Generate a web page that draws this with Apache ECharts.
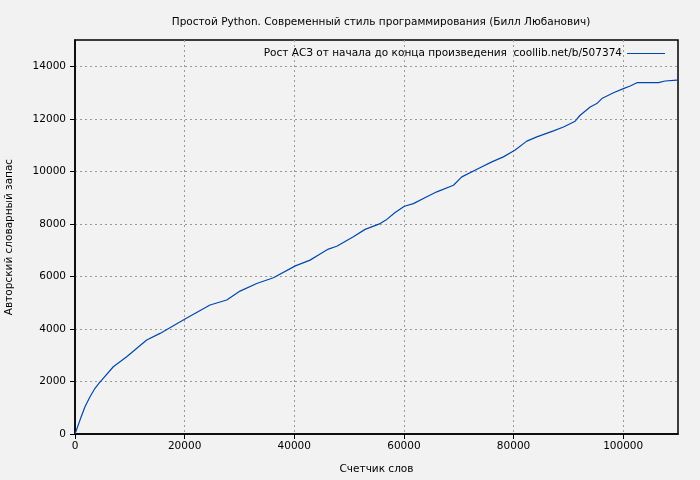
<!DOCTYPE html>
<html><head><meta charset="utf-8">
<script src="https://cdn.jsdelivr.net/npm/echarts@6/dist/echarts.min.js"></script>
<style>html,body{margin:0;padding:0;background:#f2f2f2}#c{width:700px;height:480px}</style>
</head><body><div id="c"></div>
<script>
const chartTitle = 'Простой Python. Современный стиль программирования (Билл Любанович)';
const seriesName = 'Рост АСЗ от начала до конца произведения  coollib.net/b/507374';
const xName = 'Счетчик слов';
const yName = 'Авторский словарный запас';
const wordCounts = [0,910,1820,2740,3650,4430,4870,6990,9430,13080,15510,20070,24630,27680,30110,33150,36190,40200,42880,44710,46220,47750,50780,52920,55660,56880,58400,60090,61730,64180,66000,69040,70560,73600,76040,78150,80230,82420,84250,87280,89110,91240,92150,93980,95190,96110,98230,100050,101270,102610,106440,107660,109800,110000];
const vocab = [0,530,1040,1420,1740,1950,2050,2560,2940,3580,3830,4375,4910,5100,5440,5730,5950,6400,6620,6850,7040,7150,7510,7790,8010,8170,8430,8670,8770,9030,9220,9470,9790,10110,10360,10550,10800,11150,11310,11540,11690,11910,12135,12450,12580,12770,12990,13150,13250,13380,13380,13440,13470,13470];
const font = 'DejaVu Sans';
const chart = echarts.init(document.getElementById('c'));
chart.setOption({
  backgroundColor: '#f2f2f2',
  animation: false,
  textStyle: {fontFamily: font},
  title: {text: chartTitle, left: 376, textAlign: 'center', top: 12, textStyle: {fontSize: 10.5, fontWeight: 'normal', color: '#000', fontFamily: font}},
  legend: {right: 30, top: 43, align: 'right', itemWidth: 38, itemHeight: 10, itemGap: 0,
    textStyle: {fontSize: 10.5, color: '#000', fontFamily: font},
    data: [{name: seriesName, icon: 'path://M0,5L40,5L40,6L0,6Z'}]},
  grid: {left: 75, right: 22, top: 40, bottom: 46, outerBoundsMode: 'none', containLabel: false, show: true, borderColor: '#000', borderWidth: 1.5, backgroundColor: 'transparent'},
  xAxis: {type: 'value', min: 0, max: 110000, interval: 20000, name: xName, nameLocation: 'middle', nameGap: 30,
    nameTextStyle: {fontSize: 10.5, color: '#000'},
    axisLine: {show: true, lineStyle: {color: '#000', width: 1.5}},
    axisTick: {show: true, length: 5, lineStyle: {color: '#000'}},
    axisLabel: {fontSize: 10.5, color: '#000', showMaxLabel: false, margin: 7, formatter: v => String(v)},
    splitLine: {show: true, showMaxLine: false, showMinLine: false, lineStyle: {color: '#999', type: [2, 3], width: 1}}},
  yAxis: {type: 'value', min: 0, max: 15000, interval: 2000, name: yName, nameLocation: 'middle', nameGap: 60, nameRotate: 90,
    nameTextStyle: {fontSize: 10.5, color: '#000'},
    axisLine: {show: true, lineStyle: {color: '#000', width: 1.5}},
    axisTick: {show: true, length: 5, lineStyle: {color: '#000'}},
    axisLabel: {fontSize: 10.5, color: '#000', showMaxLabel: false, margin: 9, formatter: v => String(v)},
    splitLine: {show: true, showMaxLine: false, showMinLine: false, lineStyle: {color: '#999', type: [2, 3], width: 1}}},
  series: [{name: seriesName, type: 'line', showSymbol: false, symbol: 'none',
    lineStyle: {color: '#0047ab', width: 1.2}, itemStyle: {color: '#0047ab'},
    data: wordCounts.map((w, i) => [w, vocab[i]])}]
});
</script></body></html>
